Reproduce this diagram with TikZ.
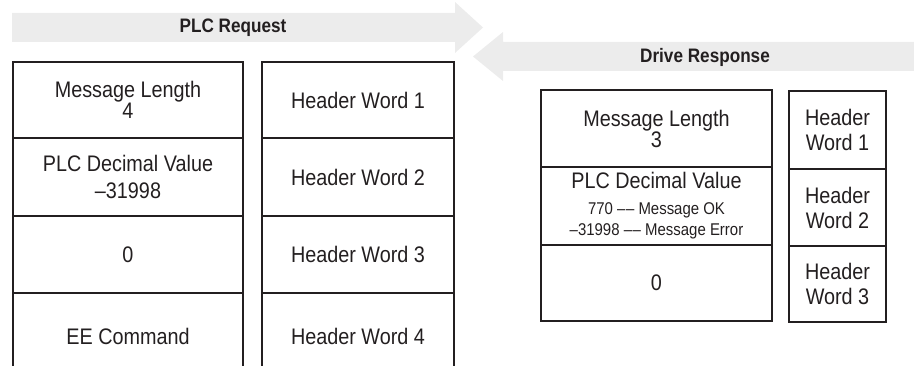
\documentclass[tikz,border=0pt]{standalone}
\usepackage{fontspec}
\setmainfont{Liberation Sans}[FakeStretch=0.88]
\definecolor{ink}{HTML}{231F20}
\definecolor{band}{HTML}{ECECEC}
\newcommand\bigtxt{\fontsize{22.5pt}{21pt}\selectfont}
\newcommand\smalltxt{\fontsize{17pt}{17pt}\selectfont}
\newcommand\headtxt{\fontsize{19.5pt}{20pt}\selectfont\bfseries}
\newcommand\ddash{–\kern0.6pt–}
\begin{document}
\begin{tikzpicture}[x=1pt,y=-1pt,
  cell/.style={draw=ink, line width=2pt, rectangle, inner sep=0pt, outer sep=0pt,
    text=ink, align=center, font=\bigtxt},
  title/.style={text=ink, font=\headtxt, inner sep=0pt}]
\clip (0,0) rectangle (914,366);
% arrows
\fill[band] (12,13) -- (455,13) -- (455,2) -- (483,27.5) -- (455,53) -- (455,42) -- (12,42) -- cycle;
\fill[band] (914,42) -- (503,42) -- (503,32) -- (473,56.5) -- (503,81) -- (503,71) -- (914,71) -- cycle;
\node[title] (req) at (233,28) {PLC Request};
\node[title] (resp) at (705,57) {Drive Response};
% left column
\node[cell, minimum width=230pt, minimum height=76pt] (l1) at (128,100) {Message Length\\4};
\node[cell, minimum width=230pt, minimum height=78pt] (l2) at (128,177) {PLC Decimal Value\\[6pt]–31998};
\node[cell, minimum width=230pt, minimum height=77pt] (l3) at (128,254.5) {0};
\node[cell, minimum width=230pt, minimum height=87pt] (l4) at (128,336.5) {EE Command};
% header column
\node[cell, minimum width=192pt, minimum height=76pt] (h1) at (358,100) {Header Word 1};
\node[cell, minimum width=192pt, minimum height=78pt] (h2) at (358,177) {Header Word 2};
\node[cell, minimum width=192pt, minimum height=77pt] (h3) at (358,254.5) {Header Word 3};
\node[cell, minimum width=192pt, minimum height=87pt] (h4) at (358,336.5) {Header Word 4};
% right main column
\node[cell, minimum width=231pt, minimum height=77pt] (r1) at (656.5,128.5) {Message Length\\3};
\node[cell, minimum width=231pt, minimum height=78pt] (r2) at (656.5,206) {PLC Decimal Value\\[5pt]\smalltxt 770 \ddash{} Message OK\\\smalltxt –31998 \ddash{} Message Error};
\node[cell, minimum width=231pt, minimum height=76pt] (r3) at (656.5,283) {0};
% right header column
\node[cell, minimum width=97pt, minimum height=78pt] (g1) at (837.5,130) {Header\\[4pt]Word 1};
\node[cell, minimum width=97pt, minimum height=77pt] (g2) at (837.5,207.5) {Header\\[4pt]Word 2};
\node[cell, minimum width=97pt, minimum height=76pt] (g3) at (837.5,284) {Header\\[4pt]Word 3};
\end{tikzpicture}
\end{document}
